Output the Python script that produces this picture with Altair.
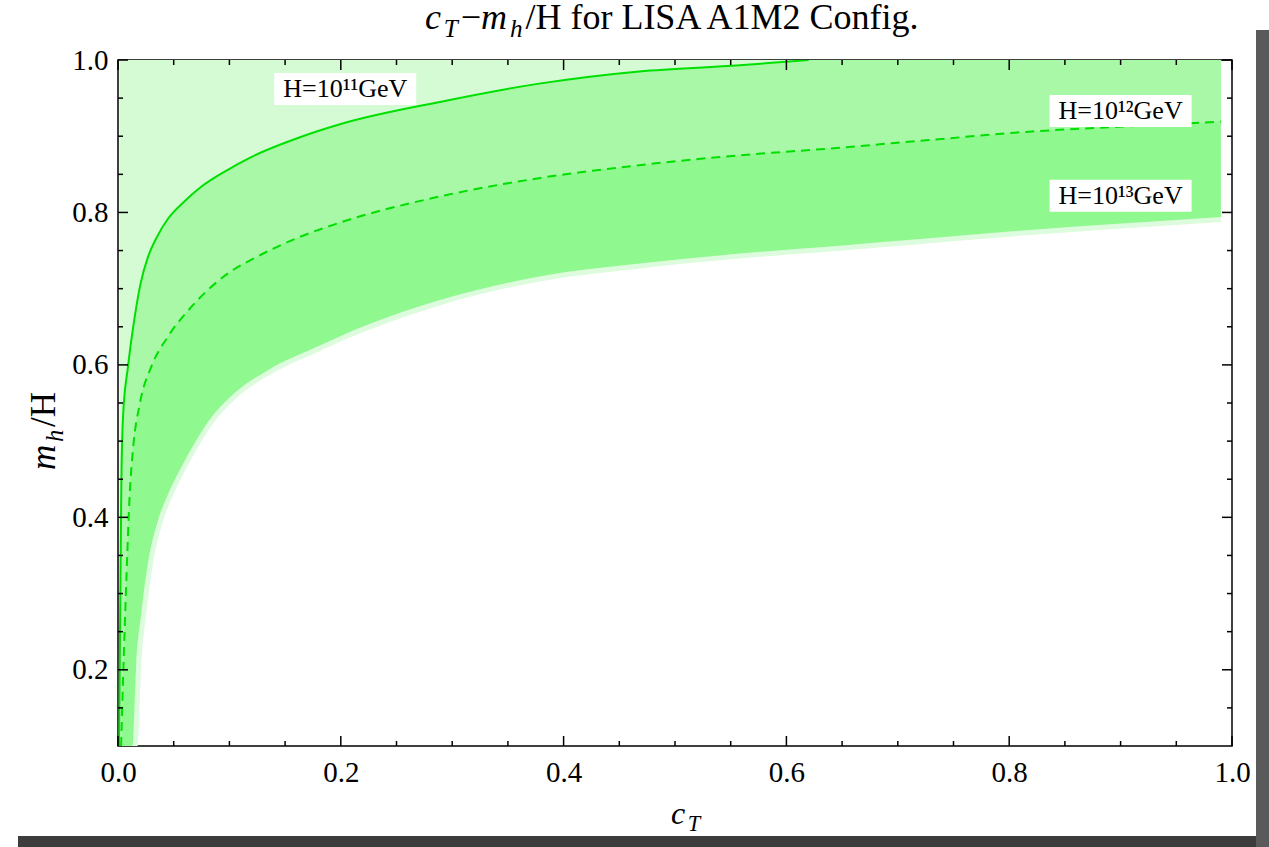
import altair as alt
import pandas as pd

# ---------------- data ----------------
# boundary for H = 1e11 GeV (solid line)
solid_c = [0.0012, 0.0018, 0.003, 0.0045, 0.009, 0.015, 0.02, 0.027, 0.035, 0.045, 0.06, 0.075, 0.095, 0.12, 0.164, 0.2, 0.289, 0.378, 0.468, 0.558, 0.62]
solid_v = [0.10, 0.25, 0.444, 0.532, 0.598, 0.663, 0.705, 0.742, 0.768, 0.792, 0.815, 0.834, 0.853, 0.873, 0.899, 0.916, 0.945, 0.969, 0.985, 0.993, 1.0]

# boundary for H = 1e12 GeV (dashed line)
dashed_c = [0.0028, 0.0045, 0.0075, 0.0105, 0.0135, 0.0194, 0.03, 0.0448, 0.0658, 0.0987, 0.125, 0.16, 0.2, 0.289, 0.378, 0.468, 0.558, 0.64, 0.728, 0.818, 0.908, 0.99]
dashed_v = [0.10, 0.186, 0.318, 0.430, 0.490, 0.548, 0.598, 0.637, 0.676, 0.720, 0.742, 0.766, 0.787, 0.821, 0.845, 0.862, 0.875, 0.884, 0.895, 0.906, 0.913, 0.919]

# lower boundary for H = 1e13 GeV (edge of the darkest band)
lower_c = [0.003, 0.013, 0.0164, 0.0209, 0.0269, 0.0359, 0.0448, 0.054, 0.0628, 0.0807, 0.1046, 0.1345, 0.179, 0.2, 0.289, 0.378, 0.468, 0.558, 0.645, 0.728, 0.818, 0.908, 0.99]
lower_v = [0.10, 0.10, 0.209, 0.274, 0.340, 0.396, 0.430, 0.458, 0.482, 0.525, 0.563, 0.593, 0.624, 0.638, 0.685, 0.716, 0.733, 0.746, 0.756, 0.766, 0.777, 0.786, 0.794]

label_text = ["H=10¹¹GeV", "H=10¹²GeV", "H=10¹³GeV"]
label_c = [0.204, 0.900, 0.900]
label_v = [0.962, 0.933, 0.822]

x_major = [0.0, 0.2, 0.4, 0.6, 0.8, 1.0]
x_minor = [0.05, 0.1, 0.15, 0.25, 0.3, 0.35, 0.45, 0.5, 0.55, 0.65, 0.7, 0.75, 0.85, 0.9, 0.95]
y_major = [0.2, 0.4, 0.6, 0.8, 1.0]
y_minor = [0.15, 0.25, 0.3, 0.35, 0.45, 0.5, 0.55, 0.65, 0.7, 0.75, 0.85, 0.9, 0.95]

# ---------------- layout ----------------
W, H = 1114, 686
PAD = {"left": 118, "top": 60, "right": 37, "bottom": 101}
SERIF = "Liberation Serif"

solid = pd.DataFrame({"c": solid_c, "v": solid_v})
dashed = pd.DataFrame({"c": dashed_c, "v": dashed_v})
lower = pd.DataFrame({"c": lower_c, "v": lower_v})
labels = pd.DataFrame({"t": label_text, "c": label_c, "v": label_v})

xs = alt.Scale(domain=[0, 1], nice=False, zero=False)
ys = alt.Scale(domain=[0.1, 1.0], nice=False, zero=False)

x_axis = alt.Axis(values=x_major, format=".1f", ticks=False, domain=False, grid=False,
                  labelFont=SERIF, labelFontSize=29, labelColor="black", labelPadding=12,
                  labelFlush=False, title=None)
y_axis = alt.Axis(values=y_major, format=".1f", ticks=False, domain=False, grid=False,
                  labelFont=SERIF, labelFontSize=29, labelColor="black", labelPadding=10,
                  labelFlush=False, labelBaseline="middle", title=None)

XN = alt.X("c:Q", scale=xs, axis=x_axis)
YN = alt.Y("v:Q", scale=ys, axis=y_axis)

# card shadow around the figure (decoration of the reference screenshot)
shadow_b = alt.Chart(pd.DataFrame({"k": [0]})).mark_rect(color="#3c3c3c").encode(
    x=alt.value(-100), x2=alt.value(W + 37), y=alt.value(H + 90), y2=alt.value(H + 101))
shadow_r = alt.Chart(pd.DataFrame({"k": [0]})).mark_rect(color="#5a5a5a").encode(
    x=alt.value(W + 24), x2=alt.value(W + 37), y=alt.value(-30), y2=alt.value(H + 101))

fade = alt.Chart(lower).mark_line(color="#DDFBDD", strokeWidth=10, clip=True,
                                  interpolate="monotone").encode(x=XN, y=YN)
dark = alt.Chart(lower).mark_area(color="#8FF88F", opacity=1, clip=True,
                                  interpolate="monotone").encode(x=XN, y=YN, y2=alt.datum(1.0))
medium = alt.Chart(dashed).mark_area(color="#A8F8A8", opacity=1, clip=True,
                                     interpolate="monotone").encode(x=XN, y=YN, y2=alt.datum(1.0))
light = alt.Chart(solid).mark_area(color="#D5FBD5", opacity=1, clip=True,
                                   interpolate="monotone").encode(x=XN, y=YN, y2=alt.datum(1.0))
solid_line = alt.Chart(solid).mark_line(color="#00E000", strokeWidth=2, clip=True,
                                        interpolate="monotone").encode(x=XN, y=YN)
dashed_line = alt.Chart(dashed).mark_line(color="#00E000", strokeWidth=2, strokeDash=[9, 6],
                                          clip=True, interpolate="monotone").encode(x=XN, y=YN)

# frame ticks (inside, on all four sides)
def xticks(vals, length):
    d = pd.DataFrame({"c": vals})
    b = alt.Chart(d).mark_rule(color="black", strokeWidth=1.5).encode(
        x=XN, y=alt.value(H), y2=alt.value(H - length))
    t = alt.Chart(d).mark_rule(color="black", strokeWidth=1.5).encode(
        x=XN, y=alt.value(0), y2=alt.value(length))
    return [b, t]

def yticks(vals, length):
    d = pd.DataFrame({"v": vals})
    l = alt.Chart(d).mark_rule(color="black", strokeWidth=1.5).encode(
        y=YN, x=alt.value(0), x2=alt.value(length))
    r = alt.Chart(d).mark_rule(color="black", strokeWidth=1.5).encode(
        y=YN, x=alt.value(W), x2=alt.value(W - length))
    return [l, r]

ticks = xticks(x_major, 10) + xticks(x_minor, 5) + yticks(y_major, 10) + yticks(y_minor, 5)

boxes = alt.Chart(labels).mark_rect(color="white", width=142, height=32).encode(x=XN, y=YN)
texts = alt.Chart(labels).mark_text(font=SERIF, fontSize=26, color="black",
                                    align="center", baseline="middle").encode(
    x=XN, y=YN, text="t:N")

# ---------------- composed math-style texts ----------------
WID = {" ": 0.25, "/": 0.278, "H": 0.722, "f": 0.333, "o": 0.5, "r": 0.333, "L": 0.611,
       "I": 0.333, "S": 0.556, "A": 0.722, "1": 0.5, "M": 0.889, "2": 0.5, "C": 0.667,
       "n": 0.5, "i": 0.278, "g": 0.5, ".": 0.25, "−": 0.564, "c": 0.444, "T": 0.556,
       "m": 0.722, "h": 0.5}

def compose(pieces, x0, y0, size, angle=0):
    out = []
    pos = 0.0
    for text, italic, sub in pieces:
        s = size * 0.7 if sub else size
        w = sum(WID.get(ch, 0.5) for ch in text) * s + (0.08 * size if italic else 0)
        shift = 0.22 * size if sub else 0.0
        if angle == 0:
            px, py = x0 + pos, y0 + shift
        else:
            px, py = x0 + shift, y0 - pos
        out.append(alt.Chart(pd.DataFrame({"t": [text]})).mark_text(
            font=SERIF, fontSize=s, fontStyle="italic" if italic else "normal",
            color="black", align="left", baseline="alphabetic", angle=angle).encode(
            x=alt.value(px), y=alt.value(py), text="t:N"))
        pos += w
    return out

title = compose([("c", True, False), ("T", True, True), ("−", False, False),
                 ("m", True, False), ("h", True, True),
                 ("/H for LISA A1M2 Config.", False, False)], 307, -31, 36)
xlabel = compose([("c", True, False), ("T", True, True)], 553, 764, 32)
ylabel = compose([("m", True, False), ("h", True, True), ("/H", False, False)], -63, 410, 35, angle=270)

layers = ([shadow_b, shadow_r, fade, dark, medium, light, solid_line, dashed_line] + ticks
          + [boxes, texts] + title + xlabel + ylabel)

chart = alt.layer(*layers).properties(
    width=W, height=H,
    autosize=alt.AutoSizeParams(type="none"),
    padding=PAD,
    background="white",
).configure_view(stroke="black", strokeWidth=1.5)

chart.save("out.html", embed_options={"renderer": "svg", "actions": False})
